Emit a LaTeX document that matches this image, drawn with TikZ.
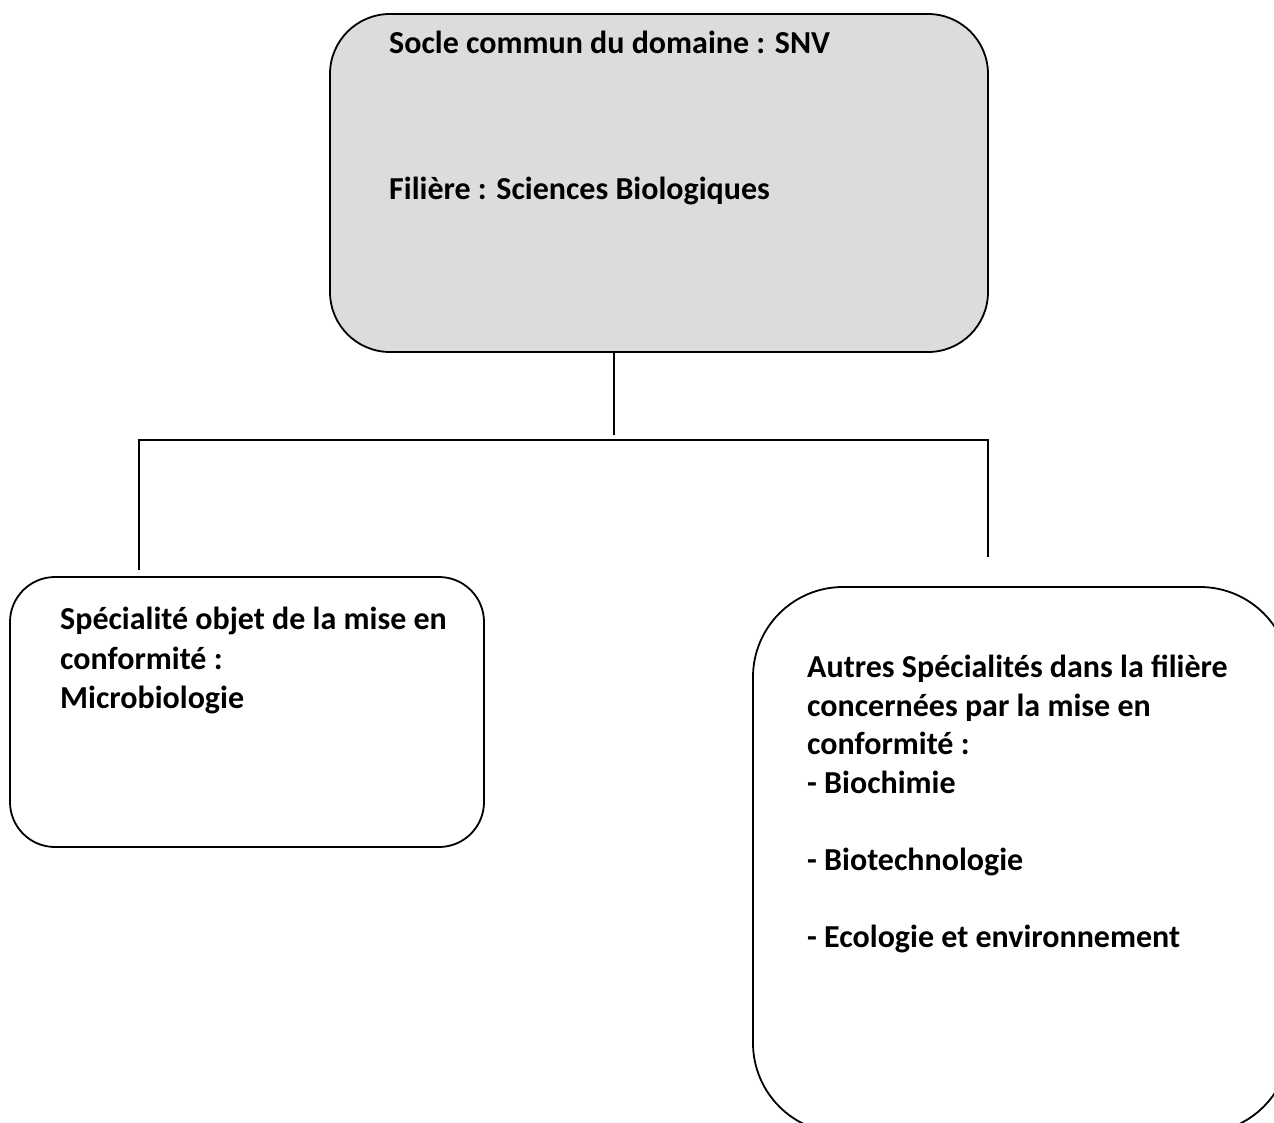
\documentclass[tikz,border=0pt]{standalone}
\usepackage{fontspec}
\setmainfont{Carlito}
\definecolor{boxgray}{RGB}{220,220,220}
\begin{document}
\begin{tikzpicture}[x=1pt,y=-1pt,
  roundbox/.style={draw=black,line width=1.8pt,rounded corners=#1,inner sep=0pt},
  txt/.style={anchor=north west,inner sep=0pt,align=left,font=\fontsize{32}{#1}\selectfont\bfseries},
  txt/.default=39,
  link/.style={draw=black,line width=1.5pt}]
\useasboundingbox (0,0) rectangle (1274,1122);
\clip (0,0) rectangle (1274,1122);
\draw[roundbox=60,fill=boxgray] (330,14) rectangle (988,352);
\node[txt] (t1) at (389,31) {Socle commun du domaine : SNV};
\node[txt] (t2) at (389,177) {Filière : Sciences Biologiques};
\coordinate (top) at (614,352);
\coordinate (stem) at (614,435);
\coordinate (hl) at (139,440);
\coordinate (hr) at (988,440);
\coordinate (dl) at (139,570);
\coordinate (dr) at (988,557);
\draw[link] (top) -- (stem);
\draw[link] (dl) -- (hl) -- (hr) -- (dr);
\draw[roundbox=45] (10,577) rectangle (484,847);
\node[txt=39.5] (t3) at (60,607) {Spécialité objet de la mise en\\conformité :\\Microbiologie};
\draw[roundbox=90] (753,587) rectangle (1290,1133);
\node[txt=38.5] (t4) at (807,655) {Autres Spécialités dans la filière\\concernées par la mise en\\conformité :\\- Biochimie\\[38.5pt]- Biotechnologie\\[38.5pt]- Ecologie et environnement};
\end{tikzpicture}
\end{document}
